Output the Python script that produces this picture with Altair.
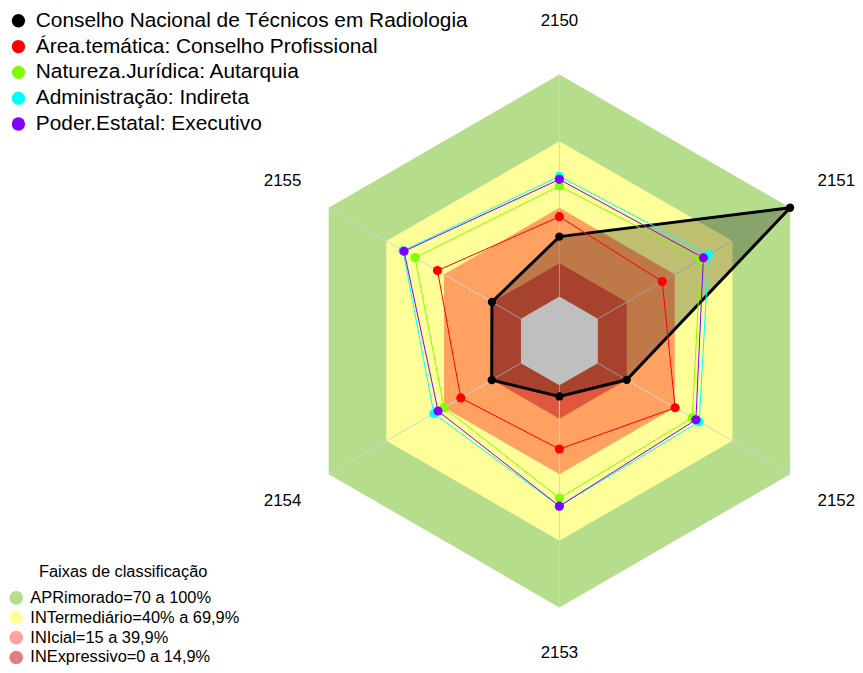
import altair as alt
import pandas as pd

# ---------------- data ----------------
axis_labels = ["2150", "2151", "2152", "2153", "2154", "2155"]

series_names = [
    "Conselho Nacional de Técnicos em Radiologia",
    "Área.temática: Conselho Profissional",
    "Natureza.Jurídica: Autarquia",
    "Administração: Indireta",
    "Poder.Estatal: Executivo",
]
conselho_nacional = [27.0, 100.0, 15.0, 5.0, 15.2, 15.1]
area_tematica = [36.0, 33.5, 40.2, 28.7, 31.3, 43.4]
natureza_juridica = [49.8, 53.4, 49.1, 50.8, 40.0, 55.1]
administracao = [54.2, 57.6, 52.7, 54.4, 45.3, 61.3]
poder_estatal = [52.8, 54.9, 51.0, 54.4, 43.1, 60.8]
series_values = [conselho_nacional, area_tematica, natureza_juridica,
                 administracao, poder_estatal]

band_names = [
    "APRimorado=70 a 100%",
    "INTermediário=40% a 69,9%",
    "INIcial=15 a 39,9%",
    "INExpressivo=0 a 14,9%",
]
band_upper = [100, 70, 40, 15]

# ---------------- styles ----------------
series_colors = ["#000000", "#FF0000", "#80FF00", "#00FFFF", "#8000FF"]
band_colors = ["#B5DD8B", "#FFFF99", "rgba(255,0,0,0.37)", "rgba(200,36,36,0.58)"]
FONT = "Liberation Sans"

# ---------------- layout ----------------
W, H = 853, 657
CX, CY = 555.3, 333.0          # plot-area pixel of the radar centre
R_MIN = -20                      # value at the centre of the radar
PX_PER_UNIT = 268.3 / 120.0
xdom = [-CX / PX_PER_UNIT, (W - CX) / PX_PER_UNIT]
ydom = [-(H - CY) / PX_PER_UNIT, CY / PX_PER_UNIT]
LABEL_VALUE = 124
LABEL_Y_MIN = ydom[0] + 9.5 / PX_PER_UNIT   # keep axis labels inside the view

# ---------------- tables ----------------
series_df = pd.DataFrame([
    {"series": name, "idx": i, "axis": lab, "value": v}
    for name, vals in zip(series_names, series_values)
    for i, (lab, v) in enumerate(zip(axis_labels, vals))
])
band_df = pd.DataFrame([
    {"band": b, "idx": i, "value": u}
    for b, u in zip(band_names, band_upper)
    for i in range(len(axis_labels))
])
centre_df = pd.DataFrame({"idx": list(range(len(axis_labels))), "value": 0})
axis_df = pd.DataFrame({"idx": list(range(len(axis_labels))), "axis": axis_labels,
                        "value": 0, "value2": 100, "labval": LABEL_VALUE})


def polar(ch, val="value", px="x", py="y"):
    return ch.transform_calculate(
        **{px: f"(datum.{val} - ({R_MIN})) * cos(PI/2 - datum.idx*PI/3)",
           py: f"(datum.{val} - ({R_MIN})) * sin(PI/2 - datum.idx*PI/3)"}
    )


X = alt.X("x:Q", scale=alt.Scale(domain=xdom, nice=False, zero=False), axis=None)
Y = alt.Y("y:Q", scale=alt.Scale(domain=ydom, nice=False, zero=False), axis=None)
ORDER = alt.Order("idx:Q")


def series_legend():
    return alt.Legend(
        title=None, orient="none", legendX=0, legendY=0,
        symbolType="circle", symbolSize=180, symbolStrokeWidth=0,
        labelFontSize=21, labelFont=FONT, labelColor="black",
        labelOffset=7, rowPadding=4, labelLimit=0)


bands = polar(alt.Chart(band_df)).mark_line(
    interpolate="linear-closed", stroke="transparent", strokeWidth=0
).encode(
    x=X, y=Y, order=ORDER,
    fill=alt.Fill("band:N", scale=alt.Scale(domain=band_names, range=band_colors),
                  legend=alt.Legend(
                      title="Faixas de classificação", orient="none",
                      legendX=0, legendY=558, titleFontSize=16.5,
                      titleFontWeight="normal", titleFont=FONT, titleColor="black",
                      titleAnchor="middle", titlePadding=9,
                      symbolType="circle", symbolSize=190, symbolStrokeWidth=0,
                      labelFontSize=16.5, labelFont=FONT, labelColor="black",
                      labelOffset=6, rowPadding=3, labelLimit=0)),
)

centre = polar(alt.Chart(centre_df)).mark_line(
    interpolate="linear-closed", fill="white", stroke="transparent"
).encode(x=X, y=Y, order=ORDER)

spokes = alt.Chart(axis_df).transform_calculate(
    x="(datum.value - (%d)) * cos(PI/2 - datum.idx*PI/3)" % R_MIN,
    y="(datum.value - (%d)) * sin(PI/2 - datum.idx*PI/3)" % R_MIN,
    x2="(datum.value2 - (%d)) * cos(PI/2 - datum.idx*PI/3)" % R_MIN,
    y2="(datum.value2 - (%d)) * sin(PI/2 - datum.idx*PI/3)" % R_MIN,
).mark_rule(color="#D3D3D3", strokeWidth=1).encode(
    x=X, y=Y, x2="x2:Q", y2="y2:Q"
)

black_fill = polar(alt.Chart(series_df)).transform_filter(
    alt.datum.series == series_names[0]
).mark_line(
    interpolate="linear-closed", fill="black", fillOpacity=0.25, stroke="transparent"
).encode(x=X, y=Y, order=ORDER)

lines = polar(alt.Chart(series_df)).mark_line(interpolate="linear-closed").encode(
    x=X, y=Y, order=ORDER,
    stroke=alt.Stroke("series:N", scale=alt.Scale(domain=series_names, range=series_colors),
                      legend=series_legend()),
    strokeWidth=alt.condition(alt.datum.series == series_names[0],
                              alt.value(3), alt.value(1)),
)

points = polar(alt.Chart(series_df)).mark_circle(opacity=1).encode(
    x=X, y=Y,
    color=alt.Color("series:N", scale=alt.Scale(domain=series_names, range=series_colors),
                    legend=series_legend()),
    size=alt.condition(alt.datum.series == series_names[0],
                       alt.value(70), alt.value(85)),
)

labels = polar(alt.Chart(axis_df), val="labval", py="y0").transform_calculate(
    y=f"max(datum.y0, {LABEL_Y_MIN})"
).mark_text(
    fontSize=17, font=FONT, color="black"
).encode(x=X, y=Y, text="axis:N")

chart = alt.layer(
    bands, centre, spokes, black_fill, lines, points, labels
).properties(
    width=W, height=H, padding=0,
    autosize=alt.AutoSizeParams(type="none"),
).configure(font=FONT).configure_view(strokeWidth=0)

chart.save("out.html", embed_options={"renderer": "svg", "actions": False})
